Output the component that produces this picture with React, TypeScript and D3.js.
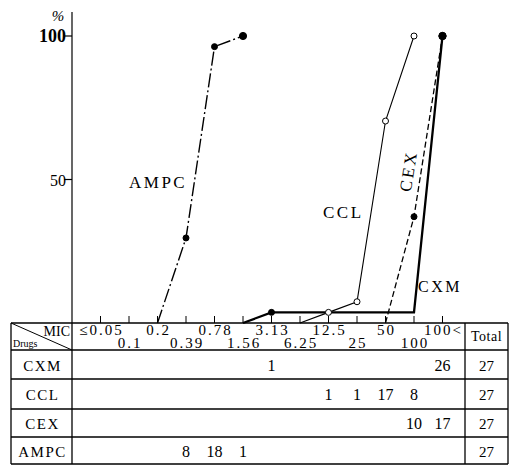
import { useRef, useEffect } from "react";
import * as d3 from "d3";

// MIC columns (µg/ml), table rows and counts per column
const micLabels = ["≤0.05", "0.1", "0.2", "0.39", "0.78", "1.56", "3.13", "6.25", "12.5", "25", "50", "100", "100<"];
const drugs = ["CXM", "CCL", "CEX", "AMPC"];
const cxmCounts = [0, 0, 0, 0, 0, 0, 1, 0, 0, 0, 0, 0, 26];
const cclCounts = [0, 0, 0, 0, 0, 0, 0, 0, 1, 1, 17, 8, 0];
const cexCounts = [0, 0, 0, 0, 0, 0, 0, 0, 0, 0, 0, 10, 17];
const ampcCounts = [0, 0, 0, 8, 18, 1, 0, 0, 0, 0, 0, 0, 0];
const totals = [27, 27, 27, 27];
const yTicks = [50, 100];

const W = 517;
const H = 466;
const FONT = "'Liberation Serif', 'DejaVu Serif', serif";

interface Pt {
  i: number; // column position (0 = axis)
  v: number; // cumulative %
  mark: boolean;
}

function cumulative(counts: number[], total: number): Pt[] {
  const first = counts.findIndex((c) => c > 0);
  const last = counts.length - 1 - [...counts].reverse().findIndex((c) => c > 0);
  const pts: Pt[] = [{ i: first, v: 0, mark: false }];
  let sum = 0;
  for (let k = first; k <= last; k++) {
    sum += counts[k];
    pts.push({ i: k + 1, v: (sum / total) * 100, mark: counts[k] > 0 });
  }
  return pts;
}

export default function App() {
  const ref = useRef<SVGSVGElement>(null);

  useEffect(() => {
    if (!ref.current) return;
    const svg = d3.select(ref.current);
    svg.selectAll("*").remove();

    const axisX = 72;
    const baseY = 323;
    const x = d3.scaleLinear().domain([0, 13]).range([axisX, 442.5]);
    const y = d3.scaleLinear().domain([0, 100]).range([baseY, 36]);

    // y axis
    svg.append("line")
      .attr("x1", axisX).attr("x2", axisX)
      .attr("y1", 12).attr("y2", baseY)
      .attr("stroke", "#000").attr("stroke-width", 1.2);
    yTicks.forEach((t) => {
      svg.append("line")
        .attr("x1", axisX - 8).attr("x2", axisX)
        .attr("y1", y(t)).attr("y2", y(t))
        .attr("stroke", "#000").attr("stroke-width", 1.2);
      svg.append("text")
        .attr("x", axisX - 6).attr("y", y(t) + 6)
        .attr("text-anchor", "end")
        .style("font-family", FONT)
        .style("font-size", t === 100 ? "18px" : "16px")
        .style("font-weight", t === 100 ? "bold" : "normal")
        .text(t);
    });
    svg.append("text")
      .attr("x", 58).attr("y", 21)
      .attr("text-anchor", "middle")
      .style("font-family", FONT).style("font-size", "15px").style("font-style", "italic")
      .text("%");

    // x ticks on the baseline
    micLabels.forEach((_, k) => {
      svg.append("line")
        .attr("x1", x(k + 1)).attr("x2", x(k + 1))
        .attr("y1", baseY).attr("y2", baseY - 7)
        .attr("stroke", "#000").attr("stroke-width", 1);
    });

    // curves
    const series = [
      { counts: cxmCounts, total: totals[0], width: 2.3, dash: null as string | null, open: false },
      { counts: cclCounts, total: totals[1], width: 1.1, dash: null, open: true },
      { counts: cexCounts, total: totals[2], width: 1.3, dash: "6,3", open: false },
      { counts: ampcCounts, total: totals[3], width: 1.4, dash: "14,3,2,3", open: false },
    ];
    const line = d3.line<Pt>().x((d) => x(d.i)).y((d) => y(d.v));
    series.forEach((s) => {
      const pts = cumulative(s.counts, s.total);
      const p = svg.append("path")
        .attr("d", line(pts))
        .attr("fill", "none")
        .attr("stroke", "#000")
        .attr("stroke-width", s.width);
      if (s.dash) p.attr("stroke-dasharray", s.dash);
      pts.filter((d) => d.mark).forEach((d) => {
        svg.append("circle")
          .attr("cx", x(d.i)).attr("cy", y(d.v))
          .attr("r", s.open ? 3 : d.v >= 100 ? 3.6 : 3)
          .attr("fill", s.open ? "#fff" : "#000")
          .attr("stroke", "#000").attr("stroke-width", 1);
      });
    });

    // curve labels
    const lbl = (t: string, px: number, py: number, size: number, rot = 0) => {
      svg.append("text")
        .attr("transform", `translate(${px},${py}) rotate(${rot})`)
        .attr("text-anchor", rot ? "middle" : "start")
        .style("font-family", FONT).style("font-size", `${size}px`)
        .style("letter-spacing", "2.5px")
        .text(t);
    };
    lbl("AMPC", 129, 188, 17);
    lbl("CCL", 323, 218, 17);
    lbl("CXM", 418, 292, 16);
    lbl("CEX", 414, 172, 17, -81);

    // table
    const left = 11;
    const right = 508;
    const totalX = 465;
    const rowY = [baseY, 350, 379, 409, 437, 464];
    const tl = (x1: number, y1: number, x2: number, y2: number, w = 1.2) =>
      svg.append("line")
        .attr("x1", x1).attr("y1", y1).attr("x2", x2).attr("y2", y2)
        .attr("stroke", "#000").attr("stroke-width", w);
    rowY.forEach((ry) => tl(left, ry, right, ry, 1.3));
    [left, axisX, totalX, right].forEach((cx) => tl(cx, baseY, cx, rowY[rowY.length - 1], 1.3));
    tl(left, baseY, axisX, rowY[1], 1);

    svg.append("text")
      .attr("x", 70).attr("y", 336).attr("text-anchor", "end")
      .style("font-family", FONT).style("font-size", "14px").text("MIC");
    svg.append("text")
      .attr("x", 13).attr("y", 347)
      .style("font-family", FONT).style("font-size", "10px").text("Drugs");

    micLabels.forEach((m, k) => {
      const top = k % 2 === 0;
      svg.append("text")
        .attr("x", x(k + 1) + 1).attr("y", top ? 335 : 348)
        .attr("text-anchor", "middle")
        .style("font-family", FONT).style("font-size", "15px")
        .style("letter-spacing", "2px")
        .text(m);
    });
    svg.append("text")
      .attr("x", (totalX + right) / 2).attr("y", 341)
      .attr("text-anchor", "middle")
      .style("font-family", FONT).style("font-size", "14px")
      .style("letter-spacing", "0.5px")
      .text("Total");

    const rows = [cxmCounts, cclCounts, cexCounts, ampcCounts];
    drugs.forEach((d, r) => {
      const cy = (rowY[r + 1] + rowY[r + 2]) / 2 + 6;
      svg.append("text")
        .attr("x", (left + axisX) / 2 + 1).attr("y", cy)
        .attr("text-anchor", "middle")
        .style("font-family", FONT).style("font-size", "15px")
        .style("letter-spacing", "1.5px")
        .text(d);
      rows[r].forEach((c, k) => {
        if (c <= 0) return;
        svg.append("text")
          .attr("x", x(k + 1)).attr("y", cy)
          .attr("text-anchor", "middle")
          .style("font-family", FONT).style("font-size", "16px")
          .text(c);
      });
      svg.append("text")
        .attr("x", (totalX + right) / 2).attr("y", cy)
        .attr("text-anchor", "middle")
        .style("font-family", FONT).style("font-size", "15px")
        .text(totals[r]);
    });
  }, []);

  return (
    <svg
      ref={ref}
      width={W}
      height={H}
      style={{ position: "absolute", left: 0, top: 0, background: "#fff" }}
    />
  );
}
